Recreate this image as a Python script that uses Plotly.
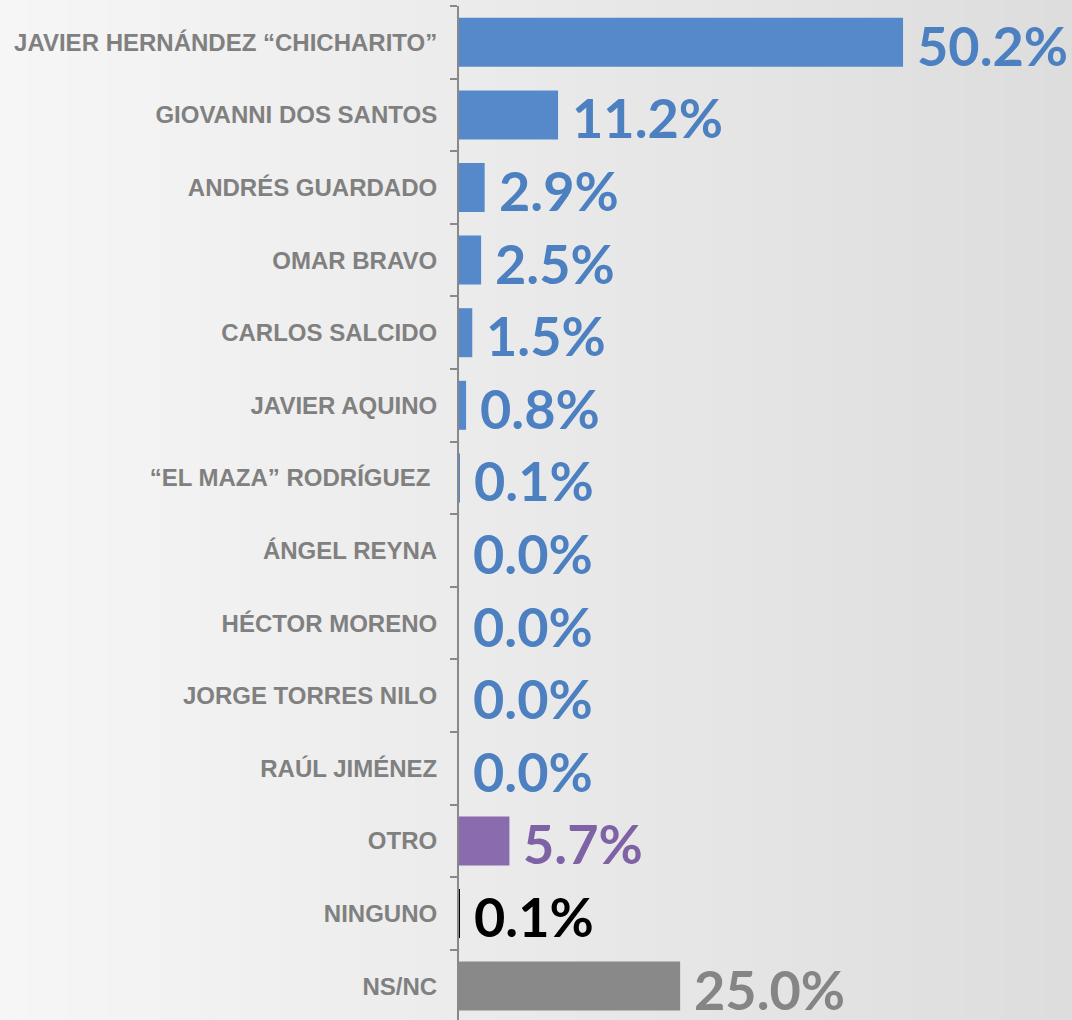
import plotly.graph_objects as go

categories = [
    "JAVIER HERNÁNDEZ “CHICHARITO”",
    "GIOVANNI DOS SANTOS",
    "ANDRÉS GUARDADO",
    "OMAR BRAVO",
    "CARLOS SALCIDO",
    "JAVIER AQUINO",
    "“EL MAZA” RODRÍGUEZ\u00a0",
    "ÁNGEL REYNA",
    "HÉCTOR MORENO",
    "JORGE TORRES NILO",
    "RAÚL JIMÉNEZ",
    "OTRO",
    "NINGUNO",
    "NS/NC",
]
values = [50.2, 11.2, 2.9, 2.5, 1.5, 0.8, 0.1, 0.0, 0.0, 0.0, 0.0, 5.7, 0.1, 25.0]
labels = ["50.2%", "11.2%", "2.9%", "2.5%", "1.5%", "0.8%", "0.1%", "0.0%",
          "0.0%", "0.0%", "0.0%", "5.7%", "0.1%", "25.0%"]

BLUE, PURPLE, BLACK, GRAY = "#5589CA", "#8A6BAE", "#000000", "#898989"
bar_colors = [BLUE] * 11 + [PURPLE, BLACK, GRAY]
text_colors = ["#4C80C0"] * 11 + ["#7F62A6", "#000000", "#858585"]

fig = go.Figure()
fig.add_trace(go.Bar(
    x=values, y=categories, orientation="h",
    marker=dict(color=bar_colors, line=dict(width=0)),
    hoverinfo="skip",
))

for c, v, t, col in zip(categories, values, labels, text_colors):
    fig.add_annotation(
        x=v, y=c, text=t, showarrow=False, xanchor="left", yanchor="middle",
        xshift=12, yshift=-3,
        font=dict(family="Lato", size=54, color=col, weight="bold"),
    )

# horizontal gradient background
N = 80
left, right = (246, 246, 246), (221, 221, 221)
shapes = []
for i in range(N):
    f = i / (N - 1)
    r = round(left[0] + (right[0] - left[0]) * f)
    shapes.append(dict(type="rect", xref="paper", yref="paper", layer="below",
                       x0=-459 / 613 + i * (1072 / 613) / N,
                       x1=-459 / 613 + (i + 1.05) * (1072 / 613) / N,
                       y0=-0.01, y1=1.01,
                       fillcolor=f"rgb({r},{r},{r})", line=dict(width=0)))

fig.update_layout(
    width=1072, height=1020,
    margin=dict(l=459, r=0, t=6, b=0),
    paper_bgcolor="#efefef", plot_bgcolor="rgba(0,0,0,0)",
    bargap=0.325, showlegend=False, shapes=shapes,
    xaxis=dict(range=[0, 69.3], visible=False, fixedrange=True),
    yaxis=dict(
        categoryorder="array", categoryarray=categories,
        range=[13.467, -0.5], tickson="boundaries",
        ticks="outside", ticklen=7, tickwidth=1.5, tickcolor="#898989",
        showline=True, linecolor="#898989", linewidth=2,
        showgrid=False, zeroline=False, ticklabelstandoff=15,
        tickfont=dict(family="Liberation Sans", size=24, color="#808080", weight="bold"),
    ),
)

fig.write_html("out.html", config={"displayModeBar": False},
               post_script="document.body.style.margin='0';document.body.style.overflow='hidden';")
